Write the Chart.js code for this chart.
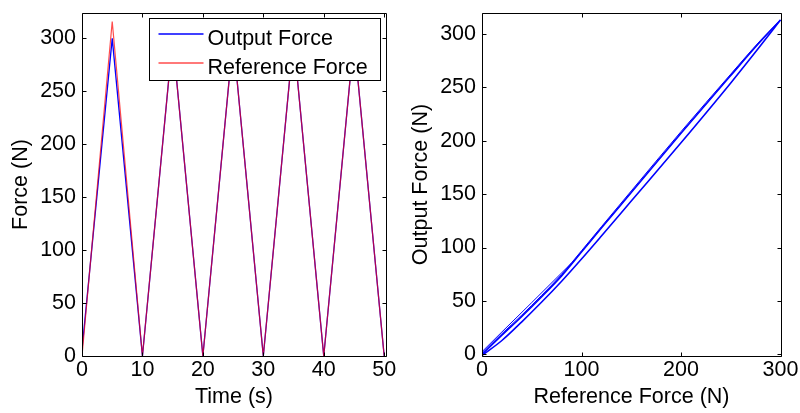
<!DOCTYPE html>
<html>
<head>
<meta charset="utf-8">
<title>Force tracking</title>
<script src="https://cdn.jsdelivr.net/npm/chart.js@4.4.0/dist/chart.umd.min.js"></script>
<style>
  body { margin: 0; background: #fff; }
  #wrap { position: relative; width: 800px; height: 413px; background: #fff; }
  canvas { position: absolute; top: 0; }
  #timeChart { left: 0; }
  #loopChart { left: 400px; }
</style>
</head>
<body>
<div id="wrap">
  <canvas id="timeChart" width="400" height="413"></canvas>
  <canvas id="loopChart" width="400" height="413"></canvas>
</div>
<script>
// time history: corners of the triangular force profile
const timeSec = [0, 5, 10, 15, 20, 25, 30, 35, 40, 45, 50];
const outputForce = [6, 300, 0, 300, 0, 300, 0, 300, 0, 300, 0];
const referenceForce = [0, 316, 0, 300, 0, 300, 0, 300, 0, 300, 0];
const timeTicks = [0, 10, 20, 30, 40, 50];
const forceTicks = [0, 50, 100, 150, 200, 250, 300];

// output vs reference (hysteresis loops)
const loopRef = [0, 20, 40, 60, 80, 100, 120, 150, 200, 250, 280, 300];
const loopOutLoading = [-1, 13, 30.5, 49, 68.5, 89.3, 110.8, 143.5, 198, 254, 289, 313];
const loopOutUnloading = [0, 18, 35.5, 54, 73.5, 95.8, 118.3, 151.5, 207, 261, 293, 313];
const loopOutUnloading2 = [1, 19.3, 36.8, 55.3, 74.8, 97, 119.5, 153, 208.5, 262.3, 294, 313];
const firstRampRef = [0, 20, 50, 90];
const firstRampOut = [2.5, 21, 48.5, 85.5];
const refTicks = [0, 100, 200, 300];

const FONT = { family: "'Liberation Sans', Arial, sans-serif", size: 21.5 };
const pts = (xs, ys) => xs.map((x, i) => ({ x: x, y: ys[i] }));

// box around the plot area with inward ticks on all four sides
const framePlugin = {
  id: 'frame',
  afterDatasetsDraw(chart) {
    const { ctx, chartArea: a, scales: { x, y } } = chart;
    const L = Math.round(a.left) + 0.5, R = Math.round(a.right) + 0.5;
    const T = Math.round(a.top) + 0.5, B = Math.round(a.bottom) + 0.5;
    const len = 4;
    ctx.save();
    ctx.strokeStyle = '#000';
    ctx.lineWidth = 1;
    ctx.beginPath();
    ctx.rect(L, T, R - L, B - T);
    x.ticks.forEach(t => {
      const px = Math.round(x.getPixelForValue(t.value)) + 0.5;
      ctx.moveTo(px, B); ctx.lineTo(px, B - len);
      ctx.moveTo(px, T); ctx.lineTo(px, T + len);
    });
    y.ticks.forEach(t => {
      const py = Math.round(y.getPixelForValue(t.value)) + 0.5;
      ctx.moveTo(L, py); ctx.lineTo(L + len, py);
      ctx.moveTo(R, py); ctx.lineTo(R - len, py);
    });
    ctx.stroke();
    ctx.restore();
  }
};

// boxed legend in the upper right of the time plot
const boxLegend = {
  id: 'boxLegend',
  afterDraw(chart) {
    const { ctx, chartArea: a } = chart;
    const right = Math.round(a.right) - 6 + 0.5, top = Math.round(a.top) + 5 + 0.5;
    const left = right - 231, bottom = top + 62;
    ctx.save();
    ctx.fillStyle = '#fff';
    ctx.fillRect(left, top, right - left, bottom - top);
    ctx.strokeStyle = '#000';
    ctx.lineWidth = 1;
    ctx.strokeRect(left, top, right - left, bottom - top);
    ctx.font = FONT.size + 'px ' + FONT.family;
    ctx.textBaseline = 'alphabetic';
    ctx.fillStyle = '#000';
    chart.data.datasets.forEach((ds, i) => {
      const ly = Math.round(top + 15 + i * 29);
      ctx.strokeStyle = ds.borderColor;
      ctx.lineWidth = 1.3;
      ctx.beginPath();
      ctx.moveTo(left + 9, ly);
      ctx.lineTo(left + 54, ly);
      ctx.stroke();
      ctx.fillText(ds.label, left + 58, ly + 11);
    });
    ctx.restore();
  }
};

function axis(opts) {
  const horiz = opts.horiz;
  return {
    type: 'linear',
    min: opts.min,
    max: opts.max,
    afterBuildTicks: s => { s.ticks = opts.ticks.map(v => ({ value: v })); },
    afterFit: s => {
      if (horiz) s.height = 57; else s.width = 82;
      s.paddingTop = 0; s.paddingBottom = 0; s.paddingLeft = 0; s.paddingRight = 0;
    },
    grid: { display: false, drawTicks: false },
    border: { display: false },
    ticks: { color: '#000', font: FONT, padding: horiz ? 1 : 6, maxRotation: 0, autoSkip: false },
    title: {
      display: true, text: opts.title, color: '#000', font: FONT,
      padding: horiz ? { top: 0, bottom: 3 } : { top: 8, bottom: 0 }
    }
  };
}

const common = {
  responsive: false,
  animation: false,
  events: [],
  elements: { point: { radius: 0 }, line: { tension: 0 } },
  plugins: { legend: { display: false }, tooltip: { enabled: false } }
};

new Chart(document.getElementById('timeChart'), {
  type: 'line',
  data: {
    datasets: [
      { label: 'Output Force', data: pts(timeSec, outputForce), borderColor: '#0000ff', borderWidth: 1.3, order: 1 },
      { label: 'Reference Force', data: pts(timeSec, referenceForce), borderColor: 'rgba(255,0,0,0.7)', borderWidth: 1.2, order: 0 }
    ]
  },
  options: Object.assign({}, common, {
    layout: { padding: { left: 0, right: 14, top: 13, bottom: 0 } },
    scales: {
      x: axis({ horiz: true, min: 0, max: 50.3, ticks: timeTicks, title: 'Time (s)' }),
      y: axis({ horiz: false, min: 0, max: 324, ticks: forceTicks, title: 'Force (N)' })
    }
  }),
  plugins: [framePlugin, boxLegend]
});

const loopLine = (xs, ys, w, smooth) => ({
  data: pts(xs, ys), showLine: true, borderColor: '#0000ff', borderWidth: w,
  pointRadius: 0, cubicInterpolationMode: smooth ? 'monotone' : 'default'
});

new Chart(document.getElementById('loopChart'), {
  type: 'scatter',
  data: {
    datasets: [
      loopLine(loopRef, loopOutLoading, 1.6, true),
      loopLine(loopRef, loopOutUnloading, 1.6, true),
      loopLine(loopRef, loopOutUnloading2, 1, true),
      loopLine(firstRampRef, firstRampOut, 1, false)
    ]
  },
  options: Object.assign({}, common, {
    layout: { padding: { left: 0, right: 19, top: 13, bottom: 0 } },
    scales: {
      x: axis({ horiz: true, min: 0, max: 300.5, ticks: refTicks, title: 'Reference Force (N)' }),
      y: axis({ horiz: false, min: -1.5, max: 319.5, ticks: forceTicks, title: 'Output Force (N)' })
    }
  }),
  plugins: [framePlugin]
});
</script>
</body>
</html>
